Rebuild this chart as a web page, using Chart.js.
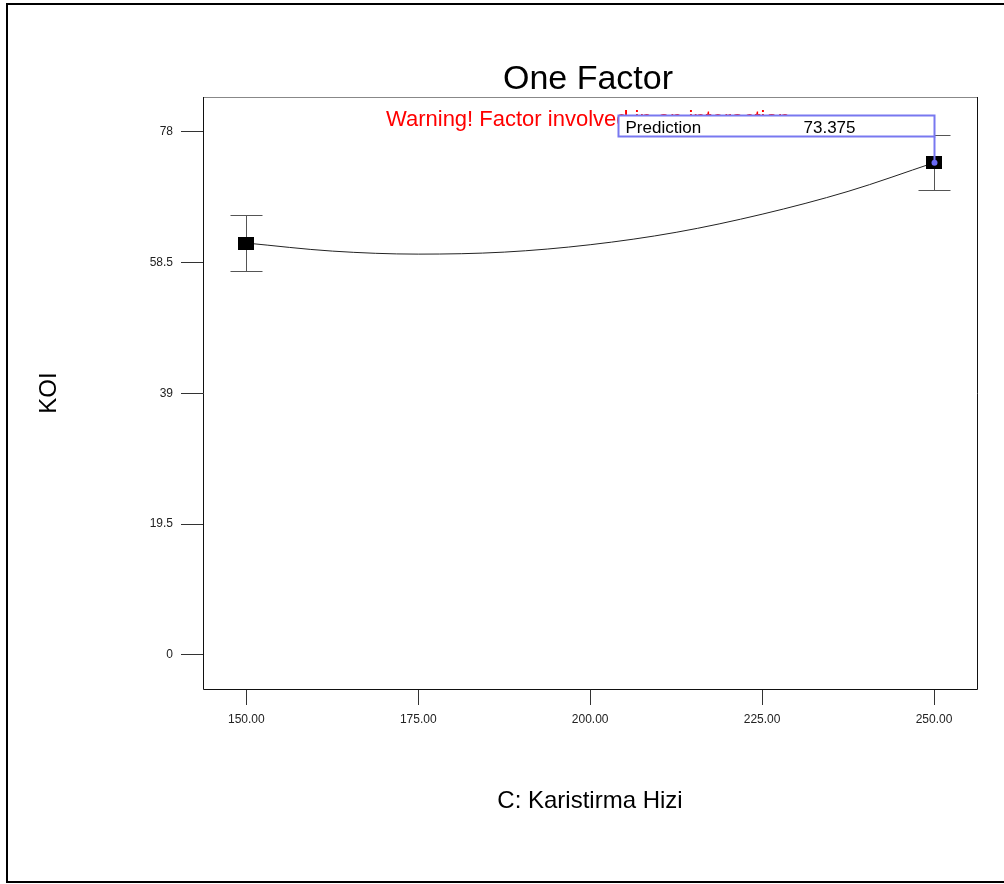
<!DOCTYPE html>
<html>
<head>
<meta charset="utf-8">
<title>One Factor</title>
<script src="https://cdn.jsdelivr.net/npm/chart.js@4.4.1/dist/chart.umd.min.js"></script>
<style>
  html, body { margin: 0; padding: 0; background: #fff; }
  #wrap { width: 1004px; height: 884px; }
</style>
</head>
<body>
<div id="wrap"><canvas id="chart" width="1004" height="884"></canvas></div>
<script>
// factor levels with KOI means and their error bars
const levels = [150, 250];
const means = [61.4, 73.375];
const errLow = [57.25, 69.3];
const errHigh = [65.55, 77.45];

// fitted model curve across the factor range
const curveX = [150, 162.5, 175, 187.5, 200, 212.5, 225, 237.5, 250];
const curveY = [61.4, 60.2, 59.75, 60.05, 61.15, 63.0, 65.7, 69.1, 73.375];

const xTicks = [150, 175, 200, 225, 250];
const yTicks = [0, 19.5, 39, 58.5, 78];

const predictionAt = 250;
const predictionValue = 73.375;

const FONT = '"Liberation Sans", Arial, sans-serif';

// black marker for the design points (a bit wider than tall)
const marker = document.createElement('canvas');
marker.width = 16;
marker.height = 13;
const mctx = marker.getContext('2d');
mctx.fillStyle = '#000';
mctx.fillRect(0, 0, 16, 13);

const decorations = {
    id: 'decorations',
    beforeDatasetsDraw(chart) {
        const { ctx, scales: { x, y } } = chart;
        ctx.save();
        ctx.strokeStyle = '#555';
        ctx.lineWidth = 1;
        levels.forEach((lv, i) => {
            const px = Math.round(x.getPixelForValue(lv)) + 0.5;
            const top = Math.round(y.getPixelForValue(errHigh[i])) + 0.5;
            const bot = Math.round(y.getPixelForValue(errLow[i])) + 0.5;
            ctx.beginPath();
            ctx.moveTo(px, top); ctx.lineTo(px, bot);
            ctx.moveTo(px - 16, top); ctx.lineTo(px + 16, top);
            ctx.moveTo(px - 16, bot); ctx.lineTo(px + 16, bot);
            ctx.stroke();
        });
        ctx.restore();
    },
    afterDraw(chart) {
        const { ctx, chartArea: a, scales: { x, y } } = chart;
        ctx.save();

        // plot frame
        ctx.lineWidth = 1;
        ctx.strokeStyle = '#888';
        ctx.beginPath();
        ctx.moveTo(a.left, a.top + 0.5); ctx.lineTo(a.right, a.top + 0.5);
        ctx.stroke();
        ctx.strokeStyle = '#111';
        ctx.beginPath();
        ctx.moveTo(a.left + 0.5, a.top); ctx.lineTo(a.left + 0.5, a.bottom + 0.5);
        ctx.lineTo(a.right + 0.5, a.bottom + 0.5); ctx.lineTo(a.right + 0.5, a.top);
        ctx.stroke();

        // outer frame
        ctx.fillStyle = '#000';
        ctx.fillRect(6, 3, 1000, 2);
        ctx.fillRect(6, 3, 2, 880);
        ctx.fillRect(6, 881, 1000, 2);

        // heading and warning
        ctx.fillStyle = '#000';
        ctx.textAlign = 'center';
        ctx.textBaseline = 'alphabetic';
        ctx.font = '34px ' + FONT;
        ctx.fillText('One Factor', (a.left + a.right) / 2 - 2, 89);

        ctx.fillStyle = '#ff0000';
        ctx.textAlign = 'left';
        ctx.font = '22px ' + FONT;
        ctx.fillText('Warning! Factor involved in an interaction.', 386, 126);

        // prediction flag
        const px = Math.round(x.getPixelForValue(predictionAt)) + 0.5;
        const py = y.getPixelForValue(predictionValue);
        const boxTop = 115.5, boxBot = 136.5, boxLeft = px - 316;
        ctx.fillStyle = '#fff';
        ctx.fillRect(boxLeft, boxTop, px - boxLeft, boxBot - boxTop);
        ctx.strokeStyle = '#7878f0';
        ctx.lineWidth = 2;
        ctx.strokeRect(boxLeft, boxTop, px - boxLeft, boxBot - boxTop);
        ctx.beginPath();
        ctx.moveTo(px, boxBot); ctx.lineTo(px, py);
        ctx.stroke();
        ctx.fillStyle = '#6a6af5';
        ctx.beginPath();
        ctx.arc(px, py, 3, 0, Math.PI * 2);
        ctx.fill();

        ctx.fillStyle = '#000';
        ctx.font = '17px ' + FONT;
        ctx.fillText('Prediction', boxLeft + 7, 133);
        ctx.fillText(predictionValue.toFixed(3), boxLeft + 185, 133);

        ctx.restore();
    }
};

new Chart(document.getElementById('chart'), {
    type: 'line',
    data: {
        datasets: [
            {
                type: 'scatter',
                data: levels.map((lv, i) => ({ x: lv, y: means[i] })),
                pointStyle: marker,
                pointRadius: 8,
                showLine: false
            },
            {
                data: curveX.map((cx, i) => ({ x: cx, y: curveY[i] })),
                borderColor: '#222',
                borderWidth: 1,
                pointRadius: 0,
                cubicInterpolationMode: 'monotone',
                fill: false
            }
        ]
    },
    options: {
        responsive: false,
        animation: false,
        events: [],
        layout: { padding: { left: 0, right: 27, top: 97, bottom: 0 } },
        plugins: {
            legend: { display: false },
            tooltip: { enabled: false }
        },
        scales: {
            x: {
                type: 'linear',
                min: 143.7,
                max: 256.25,
                afterBuildTicks: s => { s.ticks = xTicks.map(v => ({ value: v })); },
                afterFit: s => { s.height = 195; },
                border: { display: false },
                grid: { drawOnChartArea: false, drawTicks: true, tickLength: 16, tickColor: '#333' },
                ticks: {
                    padding: 7,
                    color: '#222',
                    maxRotation: 0,
                    autoSkip: false,
                    font: { family: FONT, size: 12 },
                    callback: v => Number(v).toFixed(2)
                },
                title: {
                    display: true,
                    text: 'C: Karistirma Hizi',
                    color: '#000',
                    font: { family: FONT, size: 24 },
                    padding: { top: 0, bottom: 68 }
                }
            },
            y: {
                min: -5.07,
                max: 83.17,
                afterBuildTicks: s => { s.ticks = yTicks.map(v => ({ value: v })); },
                afterFit: s => { s.width = 203; },
                border: { display: false },
                grid: { drawOnChartArea: false, drawTicks: true, tickLength: 22, tickColor: '#333' },
                ticks: {
                    padding: 8,
                    color: '#222',
                    autoSkip: false,
                    font: { family: FONT, size: 12 },
                    callback: v => String(v)
                },
                title: {
                    display: true,
                    text: 'KOI',
                    color: '#000',
                    font: { family: FONT, size: 24 },
                    padding: { top: 35, bottom: 0 }
                }
            }
        }
    },
    plugins: [decorations]
});
</script>
</body>
</html>
